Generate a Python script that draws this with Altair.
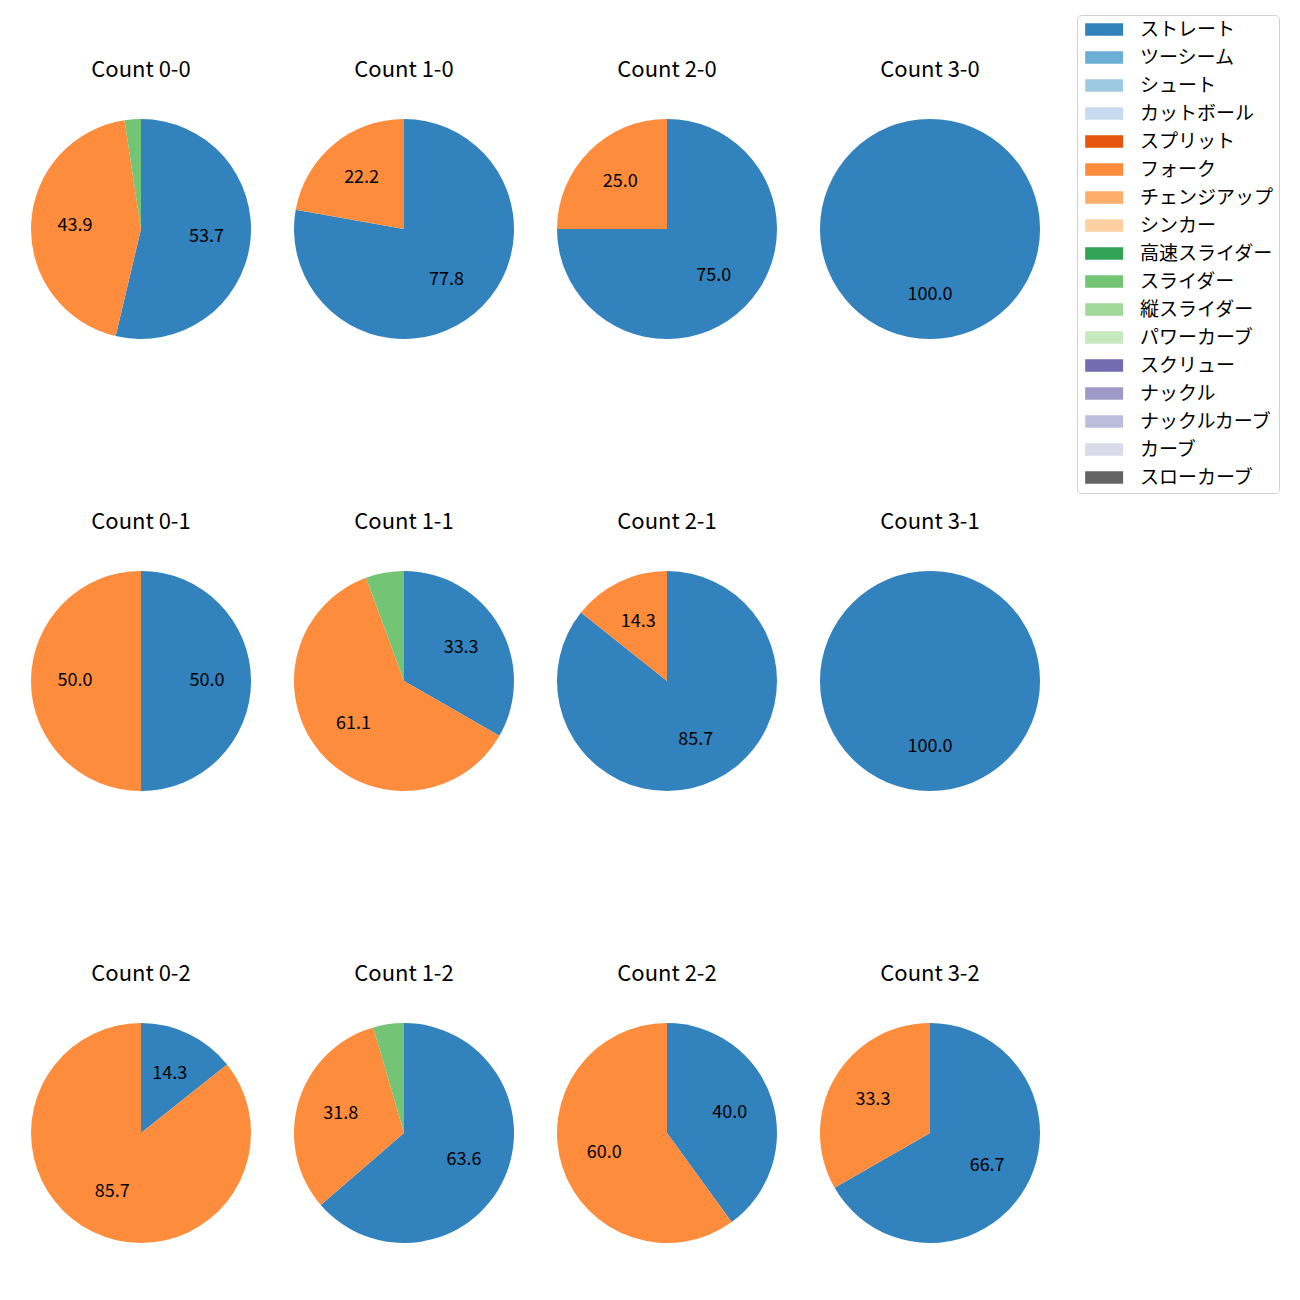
import altair as alt
import pandas as pd

FONT = "Noto Sans CJK JP"

types = ["ストレート", "ツーシーム", "シュート", "カットボール", "スプリット", "フォーク",
         "チェンジアップ", "シンカー", "高速スライダー", "スライダー", "縦スライダー",
         "パワーカーブ", "スクリュー", "ナックル", "ナックルカーブ", "カーブ", "スローカーブ"]
colors = ["#3182bd", "#6baed6", "#9ecae1", "#c6dbef", "#e6550d", "#fd8d3c",
          "#fdae6b", "#fdd0a2", "#31a354", "#74c476", "#a1d99b", "#c7e9c0",
          "#756bb1", "#9e9ac8", "#bcbddc", "#dadaeb", "#636363"]

counts = ["0-0", "1-0", "2-0", "3-0",
          "0-1", "1-1", "2-1", "3-1",
          "0-2", "1-2", "2-2", "3-2"]
straight = [53.7, 77.8, 75.0, 100.0, 50.0, 33.3, 85.7, 100.0, 14.3, 63.6, 40.0, 66.7]
fork = [43.9, 22.2, 25.0, 0.0, 50.0, 61.1, 14.3, 0.0, 85.7, 31.8, 60.0, 33.3]
slider = [2.4, 0.0, 0.0, 0.0, 0.0, 5.6, 0.0, 0.0, 0.0, 4.5, 0.0, 0.0]

rows = []
for i, c in enumerate(counts):
    for name, vals in (("ストレート", straight), ("フォーク", fork), ("スライダー", slider)):
        v = vals[i]
        if v > 0:
            rows.append({"cnt": c, "type": name, "value": v,
                         "idx": types.index(name),
                         "label": f"{v:.1f}" if v >= 8 else ""})
df = pd.DataFrame(rows)

CX, CY = 133, 221
R = 110

color_enc = alt.Color(
    "type:N",
    scale=alt.Scale(domain=types, range=colors),
    legend=alt.Legend(
        title=None, orient="none", legendX=1069, legendY=7,
        symbolType="M-1,-1H5V1H-1Z", symbolSize=160,
        symbolStrokeWidth=0, symbolOpacity=1,
        labelFont=FONT, labelFontSize=19, labelColor="black", labelLimit=400,
        labelOffset=39, rowPadding=8, padding=5,
        strokeColor="#d0d0d0", cornerRadius=4, fillColor="white",
    ),
)


def panel(c):
    base = alt.Chart(df).transform_filter(alt.datum.cnt == c)
    arc = base.mark_arc(outerRadius=R).encode(
        theta=alt.Theta("value:Q", stack=True),
        color=color_enc,
        order=alt.Order("idx:Q"),
        x=alt.value(CX), y=alt.value(CY),
    )
    txt = base.mark_text(radius=R * 0.6, font=FONT, fontSize=18, color="black").encode(
        theta=alt.Theta("value:Q", stack=True),
        order=alt.Order("idx:Q"),
        text="label:N",
        x=alt.value(CX), y=alt.value(CY),
    )
    ttl = alt.Chart(pd.DataFrame({"t": [f"Count {c}"]})).mark_text(
        font=FONT, fontSize=22, color="black", baseline="middle"
    ).encode(text="t:N", x=alt.value(CX), y=alt.value(62))
    return alt.layer(arc, txt, ttl).properties(width=263, height=452)


grid = [counts[0:4], counts[4:8], counts[8:12]]
chart = alt.vconcat(
    *[alt.hconcat(*[panel(c) for c in r], spacing=0) for r in grid],
    spacing=0,
).properties(padding=0).configure_view(stroke=None)

chart.save("out.html", embed_options={"renderer": "svg", "actions": False})
